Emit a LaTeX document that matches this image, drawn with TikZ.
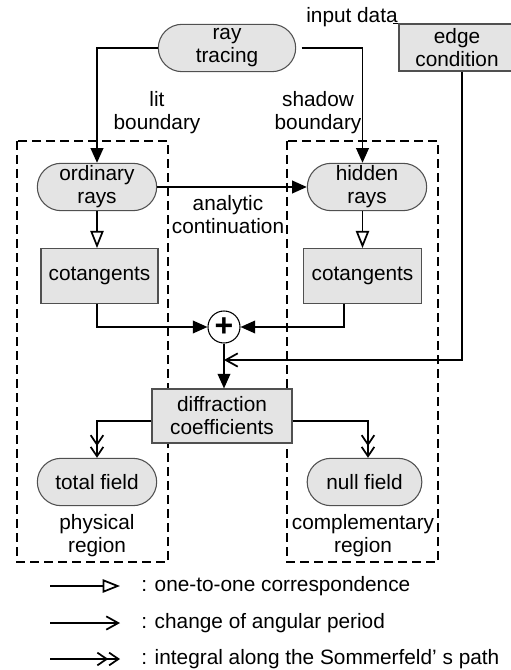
\documentclass[tikz,border=0pt]{standalone}
\usepackage{fontspec}
\setmainfont{Liberation Sans}
\usetikzlibrary{arrows.meta,positioning,shapes.misc}
\definecolor{RayGray}{HTML}{E4E4E4}
\definecolor{RayEdge}{HTML}{505050}

\begin{document}
\begin{tikzpicture}[
  x=0.75pt, y=-0.75pt,
  font=\fontsize{15.6}{17.25}\selectfont,
  lbl/.style={align=center, inner sep=1pt},
  pill/.style={draw=RayEdge, fill=RayGray, rounded rectangle, align=center, minimum width=#1, minimum height=35.5pt, inner sep=1pt, line width=0.8pt},
  pill/.default=91.5pt,
  box/.style={draw=RayEdge, fill=RayGray, rectangle, align=center, minimum width=#1, minimum height=41pt, inner sep=1pt, line width=0.8pt},
  region/.style={draw, line width=1.6pt, dash pattern=on 6.5pt off 4pt},
  flow/.style={-{Triangle[length=11pt,width=9.5pt]}, line width=1.3pt},
  corr/.style={-{Triangle[open,length=13pt,width=10pt]}, line width=1.3pt},
  period/.style={-{Straight Barb[length=9pt,width=10pt]}, line width=1.3pt},
  sommer/.style={-{Straight Barb[length=7pt,width=9.5pt] Straight Barb[length=7pt,width=9.5pt]}, line width=1.3pt}
]
\useasboundingbox (0,0) rectangle (510,670);
% regions
\draw[region] (17,141) rectangle (168,562);
\draw[region] (287,141) rectangle (438,562);
% nodes
\node[pill=105pt] (ray) at (227,48) {ray\\tracing};
\node[lbl] (data) at (352,17) {input data};
\node[box=87pt, minimum height=35.25pt] (edge) at (457,47.5) {edge\\condition};
\node[lbl] (lit) at (157,113) {lit\\boundary};
\node[lbl] (shadow) at (318,113) {shadow\\boundary};
\node[pill] (ord) at (97,187) {ordinary\\rays};
\node[pill] (hid) at (367,187) {hidden\\rays};
\node[lbl] (cont) at (228,215) {analytic\\continuation};
\node[box=87.75pt] (cotl) at (99.5,276) {cotangents};
\node[box=89pt] (cotr) at (362.5,276) {cotangents};
\node[draw, circle, fill=white, line width=0.8pt, minimum size=24pt, inner sep=0pt, font=\fontsize{24}{24}\bfseries] (plus) at (224,327) {+};
\node[box=105pt, minimum height=40.5pt] (diff) at (222,416) {diffraction\\coefficients};
\node[pill] (total) at (97,482) {total field};
\node[pill=88pt] (null) at (364.5,482) {null field};
\node[lbl] (phys) at (97,536) {physical\\region};
\node[lbl] (comp) at (363,536) {complementary\\region};
% connectors
\draw[line width=0.8pt] (edge.north west) -- ++(-5,0);
\draw[flow] (ray.west) -| (ord.north);
\draw[flow] ([xshift=4pt]ray.east) -| (cotr.north |- hid.north);
\draw[flow] (ord.east) -- (hid.west);
\draw[corr] (ord.south) -- (ord.south |- cotl.north);
\draw[corr] (cotr.north |- hid.south) -- (cotr.north);
\draw[flow] (ord.south |- cotl.south) |- (plus.west);
\draw[flow] ([xshift=-14pt]cotr.south) |- (plus.east);
\coordinate (join) at (plus.south |- 0,360);
\draw[period] (edge.south -| 462,0) |- (join);
\draw[flow] (plus.south) -- (plus.south |- diff.north);
\draw[sommer] ([yshift=-4pt]diff.west) -| (total.north);
\draw[sommer] ([yshift=-4pt]diff.east) -| (368,0 |- null.north);
% legend
\coordinate (k1) at (50,586);
\coordinate (k2) at (50,623);
\coordinate (k3) at (50,659);
\draw[corr] (k1) -- ++(70,0);
\draw[period] (k2) -- ++(70,0);
\draw[sommer] (k3) -- ++(70,0);
\node[anchor=west, inner sep=0pt] (t1) at (141,586) {: one-to-one correspondence};
\node[anchor=west, inner sep=0pt] (t2) at (141,623) {: change of angular period};
\node[anchor=west, inner sep=0pt] (t3) at (141,659) {: integral along the Sommerfeld’ s path};
\end{tikzpicture}
\end{document}
